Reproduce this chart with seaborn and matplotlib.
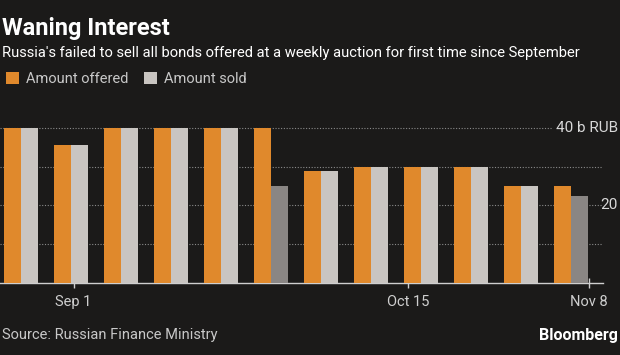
import matplotlib.pyplot as plt
import seaborn as sns
import pandas as pd
from matplotlib.patches import Patch

# Weekly OFZ auctions, billions of rubles
auctions = ['1', '2', '3', '4', '5', '6', '7', '8', '9', '10', '11', '12']
offered = [40, 35.7, 40, 40, 40, 40, 28.8, 30, 30, 30, 25, 25]
sold = [40, 35.7, 40, 40, 40, 25, 28.8, 30, 30, 30, 25, 22.5]
tick_pos = [1.05, 7.74, 11.36]
tick_labels = ['Sep 1', 'Oct 15', 'Nov 8']
series = ['Amount offered', 'Amount sold']

bg = '#1b1a19'
orange = '#e0892c'
light = '#c9c5c1'
dark = '#8a8684'

df = pd.DataFrame({
    'auction': auctions * 2,
    'value': offered + sold,
    'series': [series[0]] * len(auctions) + [series[1]] * len(auctions),
})

sns.set_theme(style='dark')
plt.rcParams['font.family'] = ['Roboto', 'DejaVu Sans']

fig = plt.figure(figsize=(6.2, 3.55), dpi=100, facecolor=bg)
ax = fig.add_axes([0, 0.203, 603 / 620, 0.4585], facecolor=bg)

sns.barplot(data=df, x='auction', y='value', hue='series', hue_order=series,
            palette=[orange, light], width=0.68, saturation=1, legend=False,
            ax=ax, zorder=3)

# darker grey where not everything offered was sold
for bar, o, s in zip(ax.containers[1], offered, sold):
    if s < o:
        bar.set_facecolor(dark)
for bar in ax.patches:
    bar.set_edgecolor('none')

ax.set_xlim(-0.42, 11.64)
ax.set_ylim(0, 42)
ax.set_yticks([10, 20, 30, 40])
ax.yaxis.grid(True, color='#8a8a8a', linestyle=(0, (1, 1.5)), linewidth=0.8, zorder=0)
ax.xaxis.grid(False)
ax.tick_params(axis='y', left=False, right=False, labelleft=False)
ax.set_xticks(tick_pos)
ax.set_xticklabels(tick_labels, color='#cfcfcf', fontsize=10.5)
ax.tick_params(axis='x', direction='inout', length=7, width=1, color='#cfcfcf', pad=5, bottom=True)
ax.set_xlabel('')
ax.set_ylabel('')
for side in ['top', 'left', 'right']:
    ax.spines[side].set_visible(False)
ax.spines['bottom'].set_color('#cfcfcf')
ax.spines['bottom'].set_linewidth(1)

# right-hand value labels, kept inside the picture
ax.text(618 / 603, 40, '40 b RUB', transform=ax.get_yaxis_transform(), color='#d8d8d8',
        fontsize=11, va='center', ha='right',
        bbox=dict(facecolor=bg, edgecolor='none', pad=3), zorder=5, clip_on=False)
ax.text(618 / 603, 20, '20', transform=ax.get_yaxis_transform(), color='#d8d8d8',
        fontsize=11, va='center', ha='right', clip_on=False)

fig.text(0.003, 0.901, 'Waning Interest', color='white', fontsize=17, fontweight='bold', va='baseline')
fig.text(0.003, 0.839, "Russia's failed to sell all bonds offered at a weekly auction for first time since September",
         color='white', fontsize=10.6, va='baseline')

handles = [Patch(facecolor=orange, edgecolor='none'), Patch(facecolor=light, edgecolor='none')]
leg = fig.legend(handles, series, loc='center left', bbox_to_anchor=(0.0, 0.777), frameon=False,
                 ncol=2, fontsize=10.5, handlelength=0.9, handleheight=0.9, handletextpad=0.45,
                 columnspacing=1.1, borderaxespad=0)
for t in leg.get_texts():
    t.set_color('#c8c8c8')

fig.text(0.003, 0.056, 'Source: Russian Finance Ministry', color='#c8c8c8', fontsize=10.5, va='center')
fig.text(0.996, 0.056, 'Bloomberg', color='white', fontsize=11.5, fontweight='bold', va='center', ha='right')

fig.savefig('out.png', dpi=100, facecolor=bg)
